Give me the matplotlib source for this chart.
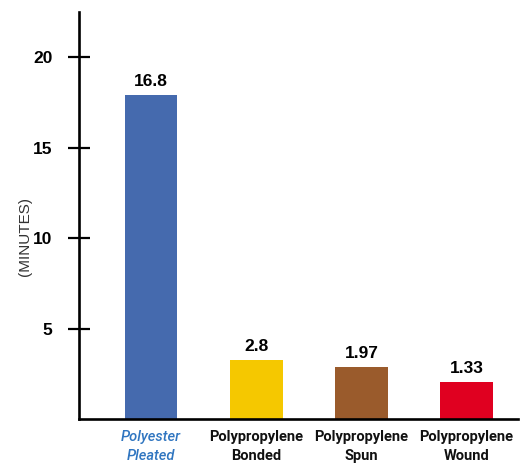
import matplotlib.pyplot as plt
import numpy as np

plt.rcParams['font.family'] = ['Liberation Sans', 'DejaVu Sans']

# data
categories = ['Polyester\nPleated', 'Polypropylene\nBonded', 'Polypropylene\nSpun', 'Polypropylene\nWound']
bar_heights = [17.9, 3.27, 2.88, 2.05]
value_labels = ['16.8', '2.8', '1.97', '1.33']
colors = ['#456aae', '#f5c800', '#9a5b2c', '#e00020']
yticks = [5, 10, 15, 20]

fig = plt.figure(figsize=(5.2, 4.66), dpi=100)
ax = fig.add_axes([79 / 520, 47 / 466, (518 - 79) / 520, (419 - 12) / 466])

x = np.arange(len(categories))
bars = ax.bar(x, bar_heights, width=0.5, color=colors)

# value labels above bars
for xi, h, lab in zip(x, bar_heights, value_labels):
    ax.text(xi, h + 0.35, lab, ha='center', va='bottom',
            fontsize=12.5, fontweight='bold', family='Liberation Sans')

ax.set_xlim(-0.686, 3.49)
ax.set_ylim(0, 22.5)

ax.spines['top'].set_visible(False)
ax.spines['right'].set_visible(False)
ax.spines['left'].set_linewidth(1.9)
ax.spines['bottom'].set_linewidth(1.9)

ax.set_yticks(yticks)
ax.set_yticklabels([str(t) for t in yticks], fontsize=12.5, fontweight='bold',
                   family='Liberation Sans')
ax.tick_params(axis='y', direction='inout', length=16, width=1.6, pad=11)
ax.tick_params(axis='x', length=0)
ax.set_xticks([])

# category labels below the axis
for i, cat in enumerate(categories):
    if i == 0:
        ax.text(x[i], -0.6, cat, ha='center', va='top', fontsize=10.5,
                style='italic', fontweight='medium', color='#2f75c0',
                linespacing=1.45, family='Roboto')
    else:
        ax.text(x[i], -0.6, cat, ha='center', va='top', fontsize=10.5,
                fontweight='bold', color='#111111', linespacing=1.45,
                family='Roboto')

fig.text(25 / 520, 1 - 237 / 466, '(MINUTES)', rotation=90, ha='center',
         va='center', fontsize=11, color='#333333', family='Liberation Sans')

fig.savefig('out.png', dpi=100)
